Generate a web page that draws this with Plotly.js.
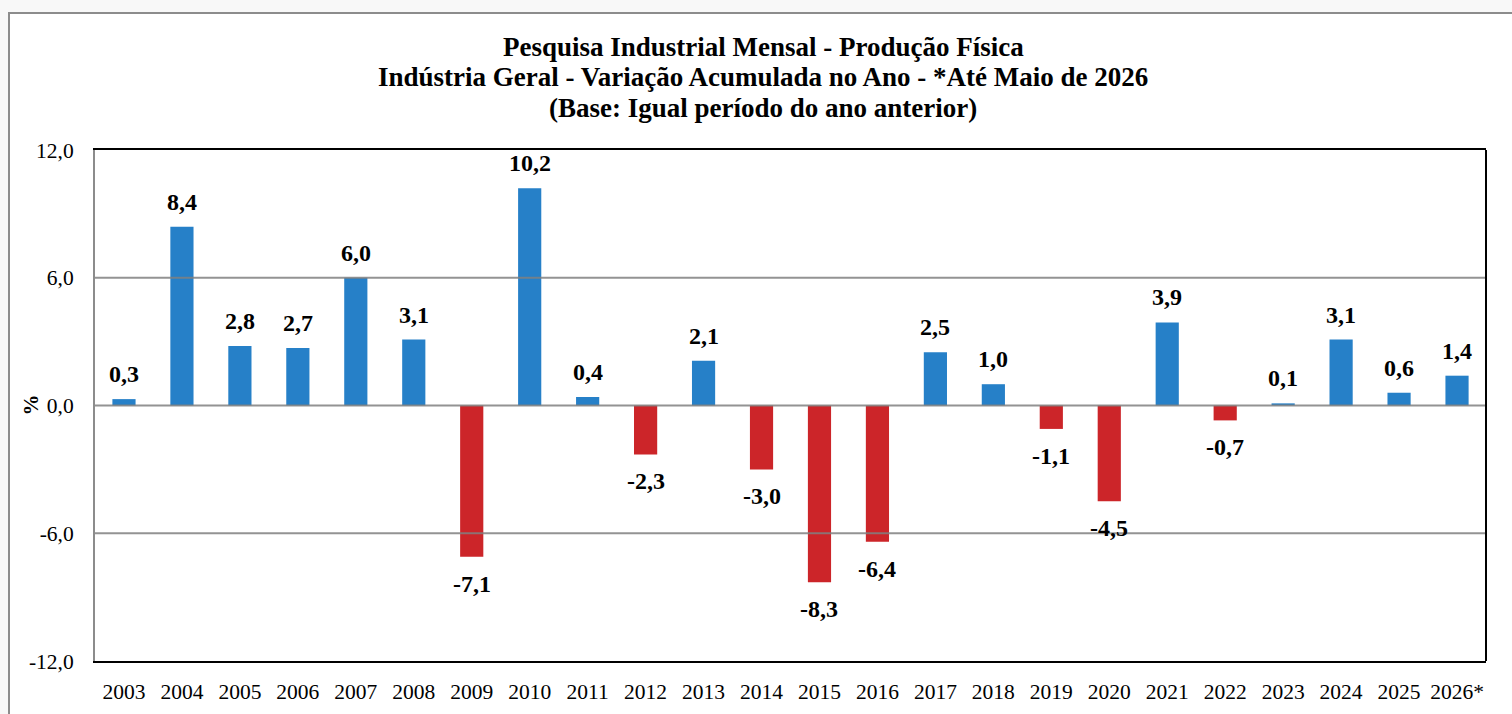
<!DOCTYPE html>
<html>
<head>
<meta charset="utf-8">
<script src="https://cdn.plot.ly/plotly-3.0.1.min.js"></script>
<style>
html,body{margin:0;padding:0;background:#f8f8f8;width:1512px;height:714px;overflow:hidden;}
#frame{position:absolute;left:8px;top:12px;width:1520px;height:720px;background:#fff;border-left:2px solid #8c8c8c;border-top:2px solid #8c8c8c;}
#chart{position:absolute;left:0;top:0;width:1512px;height:714px;}
</style>
</head>
<body>
<div id="frame"></div>
<div id="chart"></div>
<script>
const years = ["2003","2004","2005","2006","2007","2008","2009","2010","2011","2012","2013","2014","2015","2016","2017","2018","2019","2020","2021","2022","2023","2024","2025","2026*"];
const values = [0.3, 8.4, 2.8, 2.7, 6.0, 3.1, -7.1, 10.2, 0.4, -2.3, 2.1, -3.0, -8.3, -6.4, 2.5, 1.0, -1.1, -4.5, 3.9, -0.7, 0.1, 3.1, 0.6, 1.4];
const yTicks = [-12, -6, 0, 6, 12];
const titleLines = ["Pesquisa Industrial Mensal - Produção Física", "Indústria Geral - Variação Acumulada no Ano - *Até Maio de 2026", "(Base: Igual período do ano anterior)"];
const yTitle = "%";

const BLUE = "#2680c8", RED = "#cc2529";
const FONT = "Liberation Serif, Times New Roman, serif";
const fmt = v => v.toFixed(1).replace(".", ",");

const W = 1512, H = 714, ML = 95, MR = 26, MT = 150, MB = 53;
const plotW = W - ML - MR, plotH = H - MT - MB;

const trace = {
  type: "bar",
  x: years.map((_, i) => i),
  y: values,
  marker: {color: values.map(v => v >= 0 ? BLUE : RED)},
  hoverinfo: "y"
};

const annotations = years.map((yr, i) => ({
  x: i, y: values[i], xref: "x", yref: "y",
  text: "<b>" + fmt(values[i]) + "</b>",
  showarrow: false,
  yanchor: values[i] >= 0 ? "bottom" : "top",
  yshift: values[i] >= 0 ? 10 : -12,
  font: {family: FONT, size: 24, color: "#000"}
}));

const titleY = [47, 77, 108];
titleLines.forEach((t, k) => {
  annotations.push({
    text: "<b>" + t + "</b>", showarrow: false,
    xref: "paper", yref: "paper",
    x: (763 - ML) / plotW, xanchor: "center",
    y: (H - MB - titleY[k]) / plotH, yanchor: "middle",
    font: {family: FONT, size: 27, color: "#000"}
  });
});

annotations.push({
  text: "<b>" + yTitle + "</b>", showarrow: false, textangle: -90,
  xref: "paper", yref: "paper",
  x: (30 - ML) / plotW, xanchor: "center",
  y: 0.5, yanchor: "middle",
  font: {family: FONT, size: 21, color: "#000"}
});

const gridShapes = [-6, 0, 6].map(v => ({
  type: "line", xref: "paper", yref: "y", x0: 0, x1: 1, y0: v, y1: v,
  line: {color: "rgba(128,128,128,0.85)", width: 2}, layer: "above"
}));

const layout = {
  width: W, height: H,
  margin: {l: ML, r: MR, t: MT, b: MB},
  paper_bgcolor: "rgba(0,0,0,0)",
  plot_bgcolor: "#ffffff",
  separators: ",.",
  showlegend: false,
  bargap: 0.6,
  xaxis: {
    type: "linear",
    range: [-0.5, years.length - 0.5],
    tickvals: years.map((_, i) => i),
    ticktext: years,
    showline: true, linecolor: "#000", linewidth: 2, mirror: true,
    showgrid: false, zeroline: false, ticks: "",
    ticklabelstandoff: 10,
    tickfont: {family: FONT, size: 21.5, color: "#000"}
  },
  yaxis: {
    range: [-12, 12],
    tickvals: yTicks,
    ticktext: yTicks.map(fmt),
    showgrid: false, zeroline: false,
    showline: true, linecolor: "#8c8c8c", linewidth: 2,
    ticks: "", ticklabelstandoff: 15,
    tickfont: {family: FONT, size: 21.5, color: "#000"}
  },
  shapes: gridShapes.concat([{
    type: "line", xref: "paper", yref: "paper", x0: 1, x1: 1, y0: 0, y1: 1,
    line: {color: "#000", width: 2}, layer: "above"
  }]),
  annotations: annotations
};

Plotly.newPlot("chart", [trace], layout, {displayModeBar: false, staticPlot: true});
</script>
</body>
</html>
